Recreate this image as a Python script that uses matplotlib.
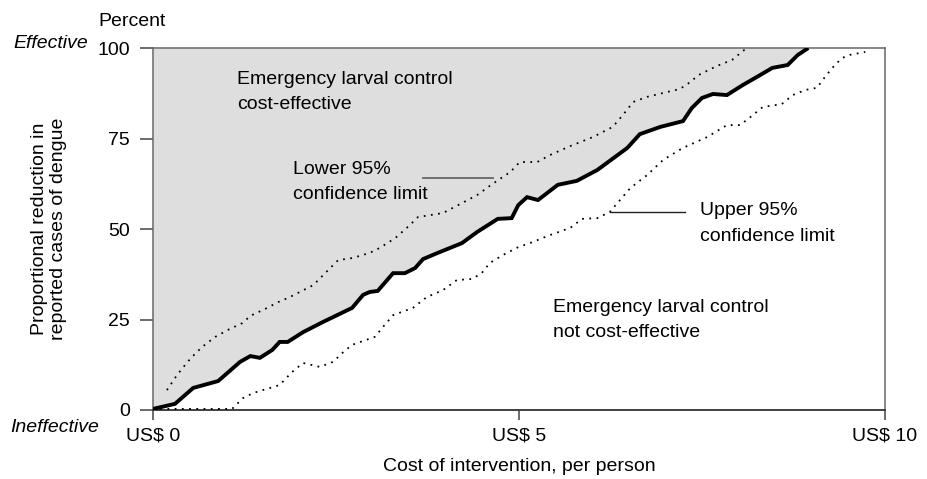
import matplotlib
matplotlib.use("Agg")
import matplotlib.pyplot as plt

plt.rcParams['font.family'] = ['Liberation Sans', 'DejaVu Sans']

# central estimate (solid line)
cost_mid = [0, 0.30, 0.55, 0.89, 1.19, 1.33, 1.46, 1.63, 1.73, 1.84, 2.05, 2.32, 2.72,
            2.87, 2.96, 3.07, 3.28, 3.44, 3.58, 3.69, 3.89, 4.22, 4.43, 4.71, 4.90,
            4.99, 5.11, 5.26, 5.53, 5.79, 6.07, 6.48, 6.65, 6.93, 7.24, 7.36, 7.50,
            7.65, 7.84, 8.06, 8.25, 8.46, 8.67, 8.81, 8.93]
red_mid = [0.3, 1.7, 6.1, 8.0, 13.3, 14.9, 14.4, 16.6, 18.8, 18.8, 21.5, 24.3, 28.2,
           31.8, 32.6, 32.9, 37.8, 37.8, 39.2, 41.7, 43.4, 46.1, 49.2, 52.8, 53.0,
           56.6, 58.8, 58.0, 62.2, 63.3, 66.3, 72.4, 76.2, 78.2, 79.8, 83.4, 86.2,
           87.3, 87.0, 89.8, 92.0, 94.5, 95.3, 98.1, 99.7]

# lower 95% confidence limit (upper dotted line)
cost_lo = [0.19, 0.33, 0.46, 0.53, 0.67, 0.85, 1.05, 1.22, 1.33, 1.53, 1.71, 1.87,
           2.19, 2.42, 2.53, 2.73, 2.96, 3.10, 3.31, 3.51, 3.62, 3.96, 4.15, 4.43,
           4.60, 4.78, 4.88, 5.01, 5.25, 5.42, 5.70, 6.01, 6.28, 6.42, 6.56, 6.75,
           7.20, 7.34, 7.45, 7.70, 7.91, 8.11]
red_lo = [5.5, 9.7, 13.0, 14.6, 17.4, 20.2, 22.4, 24.0, 26.0, 27.9, 29.8, 31.2,
          34.5, 39.2, 41.4, 42.0, 43.4, 44.8, 47.5, 51.1, 53.3, 54.4, 56.4, 59.4,
          61.9, 64.4, 65.7, 68.5, 68.5, 70.4, 72.9, 75.4, 78.2, 81.5, 85.1, 86.5,
          88.7, 90.6, 92.5, 95.0, 96.7, 100]

# upper 95% confidence limit (lower dotted line)
cost_hi = [0, 1.08, 1.23, 1.37, 1.73, 1.90, 2.05, 2.28, 2.46, 2.60, 2.72, 3.03,
           3.14, 3.28, 3.55, 3.74, 3.96, 4.15, 4.36, 4.49, 4.60, 4.78, 4.99, 5.15,
           5.42, 5.70, 5.86, 6.07, 6.24, 6.38, 6.52, 6.75, 6.97, 7.24, 7.57, 7.84,
           8.02, 8.16, 8.33, 8.59, 8.74, 8.91, 9.07, 9.18, 9.28, 9.41, 9.52, 9.73]
red_hi = [0.3, 0.3, 3.3, 4.7, 6.9, 10.5, 13.0, 11.9, 13.3, 16.0, 18.0, 20.2,
          22.9, 26.2, 28.2, 31.2, 33.1, 35.9, 36.2, 37.8, 40.6, 42.8, 45.0, 46.1,
          48.3, 50.3, 52.8, 53.0, 54.7, 58.0, 61.3, 64.9, 69.1, 72.4, 75.4, 78.7,
          78.7, 80.9, 83.7, 84.5, 87.0, 88.4, 89.0, 92.0, 94.5, 97.2, 98.1, 98.9]

x_ticks = [0, 5, 10]
x_ticklabels = ['US$ 0', 'US$ 5', 'US$ 10']
y_ticks = [0, 25, 50, 75, 100]

FS = 14

fig = plt.figure(figsize=(9.28, 4.79), dpi=100)
ax = fig.add_axes([153 / 928, 69 / 479, 732 / 928, 362 / 479])

ax.fill_between(cost_mid, red_mid, 100, color='#dedede', lw=0, zorder=1)
ax.plot(cost_mid, red_mid, color='black', lw=2.8, solid_joinstyle='miter', zorder=4)
ax.plot(cost_lo, red_lo, color='black', lw=1.3, ls=(0, (1, 3)), zorder=3)
ax.plot(cost_hi, red_hi, color='black', lw=1.3, ls=(0, (1, 3)), zorder=3)

ax.set_xlim(0, 10)
ax.set_ylim(0, 100)
ax.set_xticks(x_ticks)
ax.set_xticklabels(x_ticklabels)
ax.set_yticks(y_ticks)
ax.tick_params(axis='y', direction='out', length=9.5, width=1.1, color='#444444',
               labelsize=FS, pad=7)
ax.tick_params(axis='x', direction='out', length=7.5, width=1.1, color='#444444',
               labelsize=FS, pad=5)
for side in ['left', 'top', 'right']:
    ax.spines[side].set_color('#666666')
    ax.spines[side].set_linewidth(1.1)
ax.spines['bottom'].set_color('#333333')
ax.spines['bottom'].set_linewidth(1.3)

ax.set_xlabel('Cost of intervention, per person', fontsize=FS, labelpad=10)

# labels outside the plot
ax.text(-0.287, 107.4, 'Percent', fontsize=FS, ha='center', va='center', clip_on=False)
ax.text(-0.89, 101.3, 'Effective', fontsize=FS, style='italic', ha='right',
        va='center', clip_on=False)
ax.text(-1.34, -4.9, 'Ineffective', fontsize=FS, style='italic', ha='center',
        va='center', clip_on=False)
ax.text(-1.42, 50, 'Proportional reduction in\nreported cases of dengue', fontsize=FS,
        rotation=90, ha='center', va='center', multialignment='center',
        linespacing=1.15, clip_on=False)

# annotations inside the plot
ax.text(1.15, 91.3, 'Emergency larval control', fontsize=FS, va='center')
ax.text(1.15, 84.5, 'cost-effective', fontsize=FS, va='center')
ax.text(1.91, 66.3, 'Lower 95%', fontsize=FS, va='center')
ax.text(1.91, 59.4, 'confidence limit', fontsize=FS, va='center')
ax.plot([3.69, 4.64], [64.1, 64.1], color='#666666', lw=1.3, zorder=5)
ax.text(7.47, 55.0, 'Upper 95%', fontsize=FS, va='center')
ax.text(7.47, 47.8, 'confidence limit', fontsize=FS, va='center')
ax.plot([6.24, 7.27], [54.7, 54.7], color='#222222', lw=1.0, zorder=5)
ax.text(5.46, 28.2, 'Emergency larval control', fontsize=FS, va='center')
ax.text(5.46, 21.5, 'not cost-effective', fontsize=FS, va='center')

fig.savefig('out.png', dpi=100)
